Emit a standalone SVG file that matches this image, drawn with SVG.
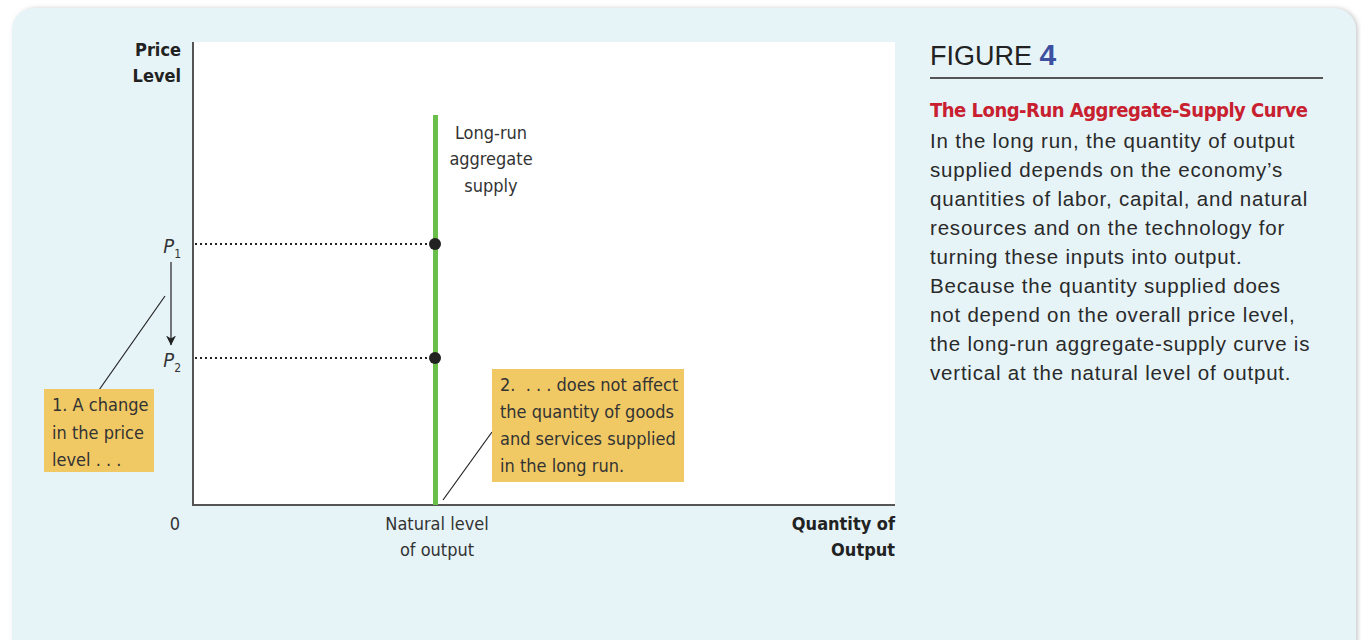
<svg xmlns="http://www.w3.org/2000/svg" width="1361" height="640" viewBox="0 0 1361 640">
<style>
.cond{font-family:"Liberation Sans Narrow","DejaVu Sans Condensed","Liberation Sans",sans-serif;}
.lbl{font-size:18px;fill:#333;}
.bold{font-weight:bold;fill:#222;}
.body{font-family:"Liberation Sans","Noto Sans",sans-serif;font-size:20.5px;letter-spacing:0.8px;fill:#2a2a2a;}
.box{fill:#f0c965;}
.thin{stroke:#222;stroke-width:1.2;fill:none;}
.dot{stroke:#222;stroke-width:2;stroke-dasharray:2 3;fill:none;}
</style>
<defs>
<marker id="ah" viewBox="0 0 10 14" refX="9.5" refY="7" markerWidth="10" markerHeight="14" markerUnits="userSpaceOnUse" orient="auto">
<path d="M0,2 L10,7 L0,12 L3,7 Z" fill="#222"/>
</marker>
<filter id="sh" x="-2%" y="-2%" width="104%" height="104%"><feDropShadow dx="2" dy="0" stdDeviation="2" flood-color="#999" flood-opacity="0.5"/></filter>
</defs>
<rect width="1361" height="640" fill="#ffffff"/>
<rect id="panel" x="12" y="8" width="1344" height="660" rx="22" fill="#e6f4f8" filter="url(#sh)"/>
<g id="plot">
<rect x="193" y="42" width="702" height="463" fill="#ffffff"/>
<line x1="193" y1="42" x2="193" y2="506" stroke="#555" stroke-width="2"/>
<line x1="192" y1="505" x2="895" y2="505" stroke="#555" stroke-width="2"/>
</g>
<g id="axis-labels" class="cond">
<text class="lbl bold" x="181" y="56" text-anchor="end">Price</text>
<text class="lbl bold" x="181" y="82" text-anchor="end">Level</text>
<text class="lbl" x="175" y="530" text-anchor="middle">0</text>
<text class="lbl" x="437" y="530" text-anchor="middle">Natural level</text>
<text class="lbl" x="437" y="556" text-anchor="middle">of output</text>
<text class="lbl bold" x="895" y="530" text-anchor="end">Quantity of</text>
<text class="lbl bold" x="895" y="556" text-anchor="end">Output</text>
<text class="lbl" x="181" y="253" text-anchor="end"><tspan font-style="italic" font-size="20">P</tspan><tspan font-size="12" dy="5">1</tspan></text>
<text class="lbl" x="181" y="367" text-anchor="end"><tspan font-style="italic" font-size="20">P</tspan><tspan font-size="12" dy="5">2</tspan></text>
</g>
<g id="connectors">
<line class="dot" x1="195" y1="244" x2="430" y2="244"/>
<line class="dot" x1="195" y1="358" x2="430" y2="358"/>
<line class="thin" x1="171" y1="262" x2="171" y2="345" marker-end="url(#ah)"/>
<line class="thin" x1="165" y1="296" x2="99" y2="390"/>
<line class="thin" x1="492" y1="432" x2="443" y2="500"/>
</g>
<g id="lras">
<line x1="435.5" y1="115" x2="435.5" y2="505" stroke="#6abf4b" stroke-width="5"/>
<text class="cond lbl" x="491" y="139" text-anchor="middle">Long-run</text>
<text class="cond lbl" x="491" y="165" text-anchor="middle">aggregate</text>
<text class="cond lbl" x="491" y="192" text-anchor="middle">supply</text>
</g>
<g id="points">
<circle cx="435" cy="244" r="6" fill="#222"/>
<circle cx="435" cy="358" r="6" fill="#222"/>
</g>
<g id="note1">
<rect class="box" x="44" y="389" width="110" height="83"/>
<text class="cond lbl" x="52" y="411">1. A change</text>
<text class="cond lbl" x="52" y="439">in the price</text>
<text class="cond lbl" x="52" y="466">level . . .</text>
</g>
<g id="note2">
<rect class="box" x="492" y="369" width="192" height="113"/>
<text class="cond lbl" x="500" y="391" xml:space="preserve">2.  . . . does not affect</text>
<text class="cond lbl" x="500" y="418">the quantity of goods</text>
<text class="cond lbl" x="500" y="445">and services supplied</text>
<text class="cond lbl" x="500" y="472">in the long run.</text>
</g>
<g id="caption">
<text x="930" y="65" font-family="Liberation Sans,sans-serif" font-size="27" fill="#222">FIGURE <tspan fill="#3d50a0" font-weight="bold" font-size="30">4</tspan></text>
<line x1="930" y1="78" x2="1323" y2="78" stroke="#555" stroke-width="2"/>
<text class="cond" x="930" y="117" font-size="20" font-weight="bold" letter-spacing="-0.5" fill="#c8202f">The Long-Run Aggregate-Supply Curve</text>
<text class="body" x="930" y="148">In the long run, the quantity of output</text>
<text class="body" x="930" y="177">supplied depends on the economy’s</text>
<text class="body" x="930" y="206">quantities of labor, capital, and natural</text>
<text class="body" x="930" y="235">resources and on the technology for</text>
<text class="body" x="930" y="264">turning these inputs into output.</text>
<text class="body" x="930" y="293">Because the quantity supplied does</text>
<text class="body" x="930" y="322">not depend on the overall price level,</text>
<text class="body" x="930" y="351">the long-run aggregate-supply curve is</text>
<text class="body" x="930" y="380">vertical at the natural level of output.</text>
</g>
</svg>
